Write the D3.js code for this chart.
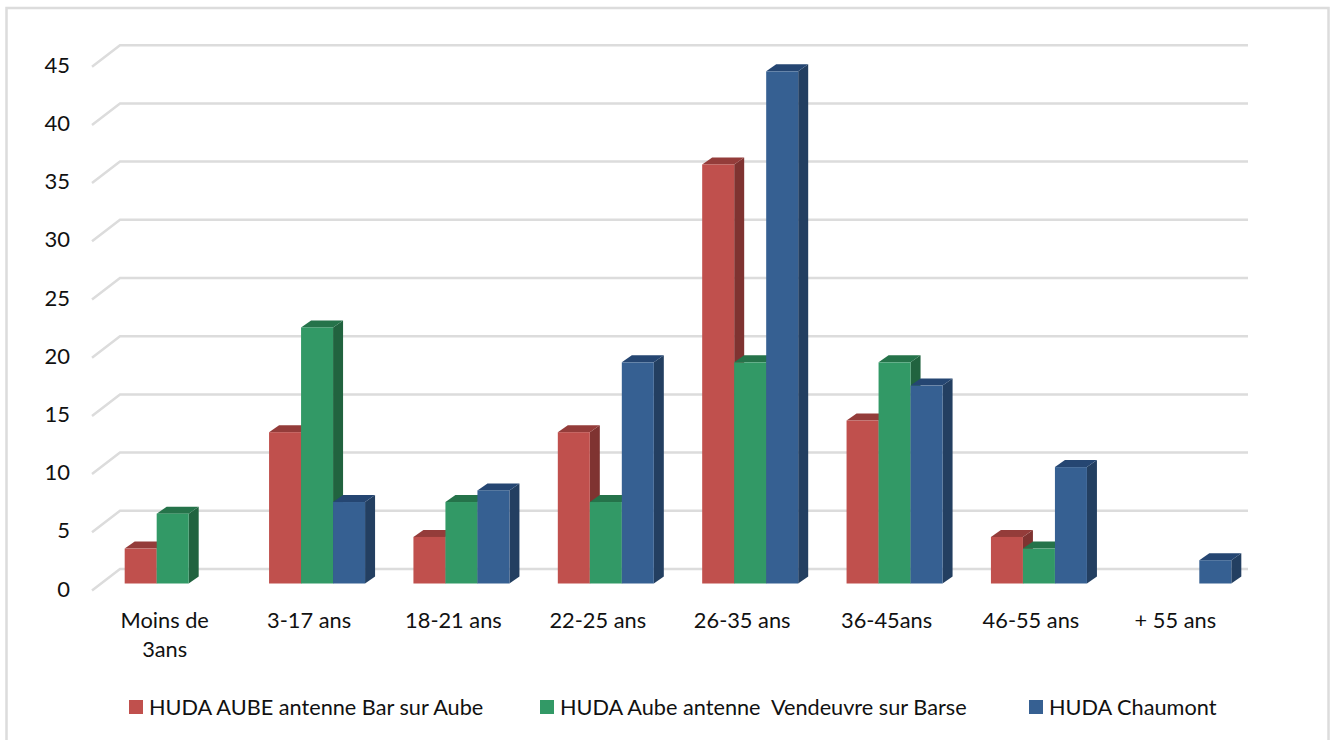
<!DOCTYPE html>
<html>
<head>
<meta charset="utf-8">
<script src="https://cdn.jsdelivr.net/npm/d3@7"></script>
<style>
  html, body { margin: 0; padding: 0; background: #fff; }
  svg { display: block; }
  text { font-family: Lato, "Open Sans", sans-serif; fill: #111; }
</style>
</head>
<body>
<div id="chart"></div>
<script>
const categories = ['Moins de|3ans', '3-17 ans', '18-21 ans', '22-25 ans', '26-35 ans', '36-45ans', '46-55 ans', '+ 55 ans']
const seriesNames = ['HUDA AUBE antenne Bar sur Aube', 'HUDA Aube antenne  Vendeuvre sur Barse', 'HUDA Chaumont']
const barSurAube = [3, 13, 4, 13, 36, 14, 4, 0]
const vendeuvre = [6, 22, 7, 7, 19, 19, 3, 0]
const chaumont = [0, 7, 8, 19, 44, 17, 10, 2]
const yTicks = [0, 5, 10, 15, 20, 25, 30, 35, 40, 45]

const seriesValues = [barSurAube, vendeuvre, chaumont]
const fronts = ['#c0504d', '#329966', '#366092']
const sides = ['#7f3331', '#21633f', '#233f61']
const tops = ['#943c3a', '#25734a', '#254672']
const legendX = [129, 540, 1029]

const width = 1330
const height = 740
// depth of the bars and of the chart floor, in pixels
const barDx = 10
const barDy = 7
const wallDx = 28
const wallDy = 14.5

const svg = d3.select('#chart').append('svg')
  .attr('width', width)
  .attr('height', height)

svg.append('rect')
  .attr('x', 6.5)
  .attr('y', 8)
  .attr('width', 1322)
  .attr('height', 760)
  .attr('fill', '#fff')
  .attr('stroke', '#dcdcdc')
  .attr('stroke-width', 2.5)

const y = d3.scaleLinear().domain([0, 45]).range([583.5, 59.7])
const x0 = d3.scaleBand()
  .domain(categories)
  .range([100.5, 1255.5])
  .paddingInner(0.335)
  .paddingOuter(0.1675)
const x1 = d3.scaleBand()
  .domain(seriesNames)
  .range([0, x0.bandwidth()])

// gridlines: short diagonal on the floor side, then along the back wall
svg.append('g').selectAll('path')
  .data(yTicks)
  .join('path')
  .attr('d', d => `M92,${y(d) + 7}L${92 + wallDx},${y(d) - wallDy}H1248`)
  .attr('fill', 'none')
  .attr('stroke', '#dcdcdc')
  .attr('stroke-width', 2.5)

svg.append('g').selectAll('text')
  .data(yTicks)
  .join('text')
  .attr('x', 70)
  .attr('y', d => y(d) + 13)
  .attr('text-anchor', 'end')
  .attr('font-size', 22)
  .text(d => d)

const groups = svg.append('g').selectAll('g')
  .data(categories)
  .join('g')
  .attr('transform', d => `translate(${x0(d)},0)`)

groups.each(function (cat, c) {
  const group = d3.select(this)
  seriesNames.forEach((name, s) => {
    const value = seriesValues[s][c]
    if (!value) return
    const left = x1(name)
    const right = left + x1.bandwidth()
    const topY = y(value)
    const baseY = y(0)
    group.append('path')
      .attr('d', `M${right},${baseY}V${topY}l${barDx},${-barDy}V${baseY - barDy}Z`)
      .attr('fill', sides[s])
    group.append('path')
      .attr('d', `M${left},${topY}l${barDx},${-barDy}H${right + barDx}l${-barDx},${barDy}Z`)
      .attr('fill', tops[s])
    group.append('rect')
      .attr('x', left)
      .attr('y', topY)
      .attr('width', x1.bandwidth())
      .attr('height', baseY - topY)
      .attr('fill', fronts[s])
  })
})

const catLabels = svg.append('g').selectAll('text')
  .data(categories)
  .join('text')
  .attr('x', d => x0(d) + x0.bandwidth() / 2 - 8)
  .attr('y', 628)
  .attr('text-anchor', 'middle')
  .attr('font-size', 21.8)

catLabels.selectAll('tspan')
  .data(d => d.split('|'))
  .join('tspan')
  .attr('x', function () { return this.parentNode.getAttribute('x') })
  .attr('dy', (d, i) => i ? 29 : 0)
  .text(d => d)

const legend = svg.append('g').selectAll('g')
  .data(seriesNames)
  .join('g')
  .attr('transform', (d, i) => `translate(${legendX[i]},700)`)

legend.append('rect')
  .attr('width', 14)
  .attr('height', 14)
  .attr('fill', (d, i) => fronts[i])

legend.append('text')
  .attr('x', 20)
  .attr('y', 15)
  .attr('font-size', 21.7)
  .attr('xml:space', 'preserve')
  .style('white-space', 'pre')
  .text(d => d)
</script>
</body>
</html>
